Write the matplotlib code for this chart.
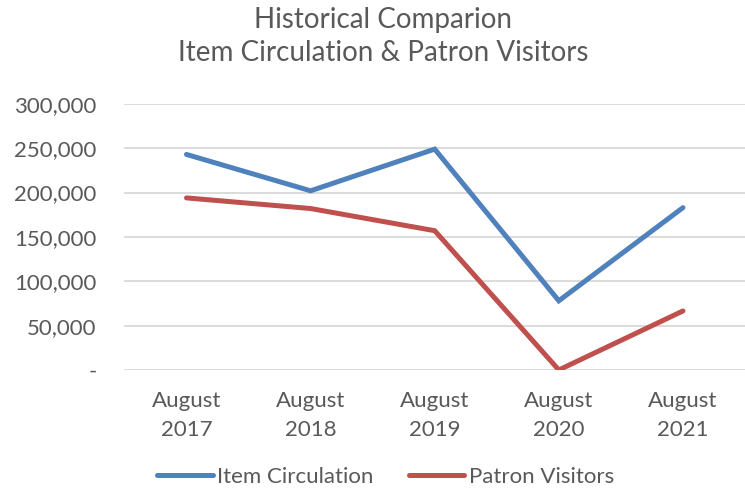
import numpy as np
import matplotlib.pyplot as plt
from matplotlib.ticker import FuncFormatter

# chart data
categories = ["August\n2017", "August\n2018", "August\n2019", "August\n2020", "August\n2021"]
item_circulation = [243000, 202000, 249000, 78000, 183000]
patron_visitors = [194000, 182000, 157000, 0, 66500]

plt.rcParams['font.family'] = ['Lato', 'DejaVu Sans']
text_color = '#595959'

fig = plt.figure(figsize=(7.45, 4.9), dpi=100)
ax = fig.add_axes([0.167, 0.245, 0.833, 0.543])

x = np.arange(len(categories))
ax.plot(x, item_circulation, color='#4F81BD', lw=3.6, solid_capstyle='round',
        solid_joinstyle='miter', label='Item Circulation')
ax.plot(x, patron_visitors, color='#C0504D', lw=3.6, solid_capstyle='round',
        solid_joinstyle='miter', label='Patron Visitors')

ax.set_xlim(-0.5, len(categories) - 0.5)
ax.set_ylim(0, 300000)
ax.set_yticks(np.arange(0, 300001, 50000))


def fmt(v, pos):
    return '-' if v == 0 else f'{int(v):,}'


ax.yaxis.set_major_formatter(FuncFormatter(fmt))
ax.set_xticks(x)
ax.set_xticklabels(categories, linespacing=1.55)
ax.tick_params(axis='both', length=0, labelsize=16, colors=text_color)
ax.tick_params(axis='x', pad=15)
ax.tick_params(axis='y', pad=20)
ax.grid(axis='y', color='#D9D9D9', lw=1.3)
ax.set_axisbelow(True)
for s in ax.spines.values():
    s.set_visible(False)

fig.text(0.514, 0.9255, 'Historical Comparion\nItem Circulation & Patron Visitors',
         ha='center', va='center', fontsize=20, color=text_color, linespacing=1.33)

fig.legend(loc='center', bbox_to_anchor=(0.5175, 0.027), ncol=2, frameon=False,
           fontsize=16, labelcolor=text_color, handlelength=2.5, handletextpad=0.2,
           columnspacing=1.6, borderpad=0.2)

fig.savefig('out.png', dpi=100)
